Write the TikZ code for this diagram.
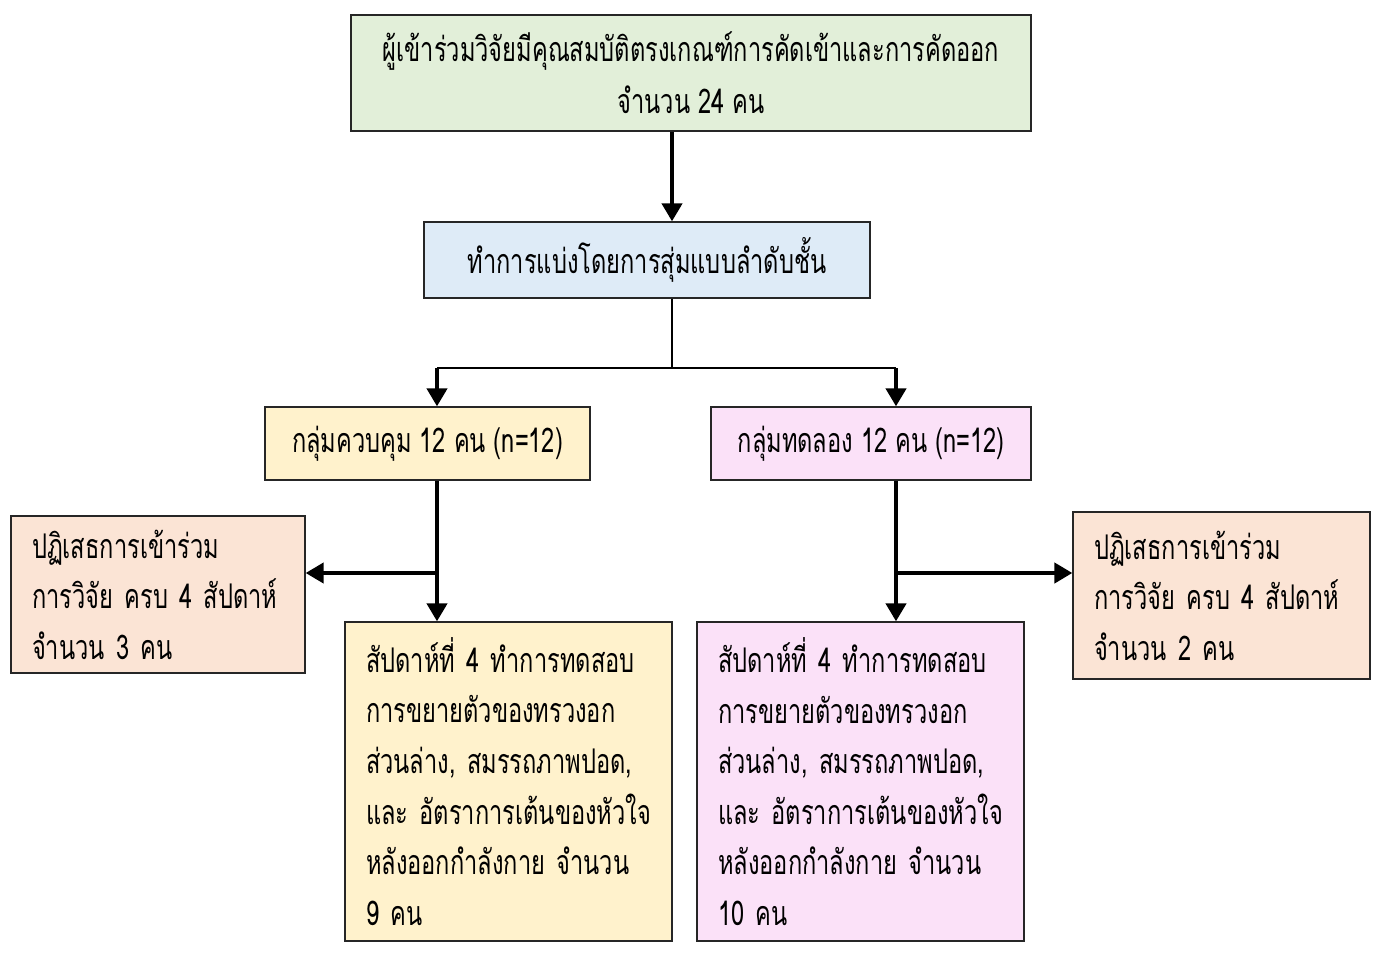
\documentclass[tikz,border=0pt]{standalone}
\usepackage{fontspec}
\newfontfamily\thaifont[Script=Thai,FakeStretch=0.695]{Loma}
\usetikzlibrary{arrows.meta}
\definecolor{cgreen}{HTML}{E2EFD9}
\definecolor{cblue}{HTML}{DEEBF7}
\definecolor{cyellow}{HTML}{FFF2CC}
\definecolor{cpink}{HTML}{FBE1F8}
\definecolor{csalmon}{HTML}{FBE4D5}
\begin{document}
\begin{tikzpicture}[x=1pt,y=-1pt,
  box/.style={draw=black!85, line width=1.3pt, inner sep=0pt,
    font=\thaifont\fontsize{34}{50.6}\selectfont},
  cbox/.style={box, align=center},
  lbox/.style={box, align=left, inner xsep=21pt},
  arrowline/.style={line width=4.2pt, -{Triangle[length=18pt,width=20pt]}},
  thinline/.style={line width=1.3pt}]
\useasboundingbox (0,0) rectangle (1383,957);
\fill[white] (0,0) rectangle (1383,957);

\node[cbox, fill=cgreen, minimum width=680pt, minimum height=116pt,
  font=\thaifont\fontsize{34}{52}\selectfont] (top) at (691,73)
  {ผู้เข้าร่วมวิจัยมีคุณสมบัติตรงเกณฑ์การคัดเข้าและการคัดออก\\จำนวน 24 คน};
\node[cbox, fill=cblue, minimum width=446pt, minimum height=76pt] (blue) at (647,260)
  {ทำการแบ่งโดยการสุ่มแบบลำดับชั้น};
\node[cbox, fill=cyellow, minimum width=325pt, minimum height=73pt] (ctrl) at (427.5,443.5)
  {กลุ่มควบคุม 12 คน (n=12)};
\node[cbox, fill=cpink, minimum width=320pt, minimum height=73pt] (expt) at (871,443.5)
  {กลุ่มทดลอง 12 คน (n=12)};
\node[lbox, fill=csalmon, minimum width=294pt, minimum height=157pt, text width=252pt] (rejL) at (158,594.5)
  {\mbox{ปฏิเสธการเข้าร่วม}\\\mbox{การวิจัย ครบ 4 สัปดาห์}\\\mbox{จำนวน 3 คน}};
\node[lbox, fill=csalmon, minimum width=297pt, minimum height=167pt, text width=255pt] (rejR) at (1221.5,595.5)
  {\mbox{ปฏิเสธการเข้าร่วม}\\\mbox{การวิจัย ครบ 4 สัปดาห์}\\\mbox{จำนวน 2 คน}};
\node[lbox, fill=cyellow, minimum width=327pt, minimum height=319pt, text width=285pt] (bigL) at (508.5,781.5)
  {\mbox{สัปดาห์ที่ 4 ทำการทดสอบ}\\\mbox{การขยายตัวของทรวงอก}\\\mbox{ส่วนล่าง, สมรรถภาพปอด,}\\\mbox{และ อัตราการเต้นของหัวใจ}\\\mbox{หลังออกกำลังกาย จำนวน}\\\mbox{9 คน}};
\node[lbox, fill=cpink, minimum width=327pt, minimum height=319pt, text width=285pt] (bigR) at (860.5,781.5)
  {\mbox{สัปดาห์ที่ 4 ทำการทดสอบ}\\\mbox{การขยายตัวของทรวงอก}\\\mbox{ส่วนล่าง, สมรรถภาพปอด,}\\\mbox{และ อัตราการเต้นของหัวใจ}\\\mbox{หลังออกกำลังกาย จำนวน}\\\mbox{10 คน}};

\coordinate (mx) at (672,0);
\coordinate (j) at (672,368);
\coordinate (lx) at (437,368);
\coordinate (rx) at (896,368);
\coordinate (cj) at (437,573);
\coordinate (ej) at (896,573);

\draw[arrowline] (top.south -| mx) -- (blue.north -| mx);
\draw[thinline] (blue.south -| mx) -- (j);
\draw[thinline] (lx) -- (rx);
\draw[arrowline] (lx) -- (ctrl.north -| lx);
\draw[arrowline] (rx) -- (expt.north -| rx);
\draw[arrowline] (ctrl.south -| lx) -- (bigL.north -| lx);
\draw[arrowline] (cj) -- (rejL.east |- cj);
\draw[arrowline] (expt.south -| rx) -- (bigR.north -| rx);
\draw[arrowline] (ej) -- (rejR.west |- ej);
\end{tikzpicture}
\end{document}
